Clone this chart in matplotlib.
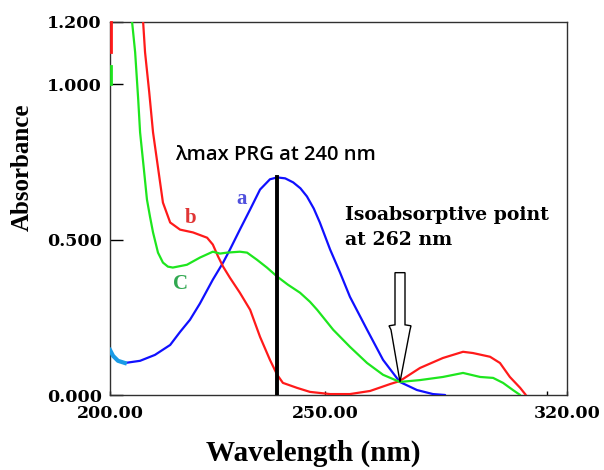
import matplotlib
matplotlib.use("Agg")
import matplotlib.pyplot as plt
from matplotlib.patches import Polygon

# ---- data ----
# curve a (blue)
wl_a = [200.0, 200.8, 202.1, 203.9, 207.9, 211.8, 215.8, 218.4, 221.0, 223.6, 227.0,
        229.7, 231.5, 234.1, 236.8, 239.4, 242.0, 243.9, 246.0, 248.1, 250.0, 251.7,
        253.5, 255.1, 257.8, 260.4, 263.0, 267.5, 271.7, 276.1, 280.6, 284.8, 288.0]
abs_a = [0.145, 0.126, 0.110, 0.103, 0.110, 0.129, 0.161, 0.203, 0.242, 0.294, 0.371,
         0.426, 0.468, 0.532, 0.597, 0.661, 0.694, 0.700, 0.697, 0.684, 0.665, 0.639,
         0.600, 0.555, 0.468, 0.394, 0.316, 0.210, 0.113, 0.042, 0.016, 0.003, 0.0]
# noisy start of curve a (cyan)
wl_a0 = [200.0, 200.8, 202.1, 203.9]
abs_a0 = [0.145, 0.126, 0.110, 0.103]

# curve b (red)
wl_b = [208.7, 209.2, 210.3, 211.3, 212.6, 213.9, 215.8, 218.4, 221.8, 225.5, 227.0,
        228.4, 229.7, 231.5, 234.1, 236.8, 239.4, 242.0, 243.9, 245.4, 249.1, 252.5,
        257.8, 263.0, 268.3, 273.5, 276.1, 281.4, 287.4, 292.7, 295.3, 299.8, 302.4,
        305.0, 307.7, 309.2]
abs_b = [1.200, 1.103, 0.974, 0.845, 0.732, 0.619, 0.555, 0.532, 0.523, 0.506, 0.484,
         0.445, 0.413, 0.377, 0.329, 0.274, 0.187, 0.113, 0.065, 0.039, 0.023, 0.010,
         0.003, 0.003, 0.013, 0.035, 0.045, 0.087, 0.119, 0.139, 0.135, 0.123, 0.103,
         0.058, 0.023, 0.0]

# curve C (green)
wl_c = [205.8, 206.6, 207.4, 207.9, 208.9, 209.7, 210.5, 211.3, 212.6, 213.9, 215.2,
        216.5, 220.2, 223.6, 227.0, 228.9, 230.7, 234.1, 236.0, 238.6, 241.2, 243.9,
        246.7, 249.9, 252.5, 254.4, 258.6, 263.0, 267.5, 271.7, 276.1, 281.4, 287.4,
        292.7, 297.2, 300.6, 303.2, 305.8, 307.7]
abs_c = [1.200, 1.103, 0.952, 0.845, 0.726, 0.629, 0.574, 0.523, 0.458, 0.426, 0.413,
         0.410, 0.419, 0.442, 0.461, 0.455, 0.458, 0.461, 0.458, 0.435, 0.410, 0.381,
         0.355, 0.329, 0.300, 0.274, 0.210, 0.155, 0.103, 0.065, 0.042, 0.048, 0.058,
         0.071, 0.058, 0.055, 0.039, 0.016, 0.0]

# short off-scale fragments at the left edge
wl_edge = [200.2, 200.2]
abs_edge_b = [1.200, 1.103]
abs_edge_c = [1.058, 1.0]

lambda_max_x = 243.9

yticks = [0.0, 0.5, 1.0, 1.2]
yticklabels = ["0.000", "0.500", "1.000", "1.200"]
xticks = [200.0, 256.5, 320.0]
xticklabels = ["200.00", "250.00", "320.00"]

# ---- figure ----
fig = plt.figure(figsize=(6.04, 4.70), dpi=100)
ax = fig.add_axes([110/604, 1-395/470, 457/604, 373/470])
ax.set_xlim(200, 320)
ax.set_ylim(0, 1.2)

blue = "#1010ff"
red = "#ff1a1a"
green = "#1ee61e"

kw = dict(lw=1.6, zorder=3, solid_joinstyle="round", solid_capstyle="round")
ax.plot(wl_a, abs_a, color=blue, **kw)
ax.plot(wl_a0, abs_a0, color="#1a9be6", lw=3.0, zorder=4)
ax.plot(wl_b, abs_b, color=red, **kw)
ax.plot(wl_c, abs_c, color=green, **kw)
ax.plot(wl_edge, abs_edge_b, color=red, lw=2, zorder=4, clip_on=False)
ax.plot(wl_edge, abs_edge_c, color=green, lw=2, zorder=4, clip_on=False)

# lambda max vertical line
ax.plot([lambda_max_x, lambda_max_x], [0, max(abs_a)], color="black", lw=2.8, zorder=5)

# hollow arrow pointing at isoabsorptive point
def px2d(px, py):
    return (200 + (px - 110) * 120 / 457, (395 - py) / 310)

arrow_px = [(395, 273), (405, 273), (405, 325), (411, 326), (410, 330), (400, 382),
            (391, 330), (389, 326), (395, 325)]
arrow = Polygon([px2d(*p) for p in arrow_px], closed=True, facecolor="white",
                edgecolor="black", lw=1.0, zorder=6)
ax.add_patch(arrow)

# text
ax.text(*px2d(175, 161), "λmax PRG at 240 nm", fontsize=14.5, fontfamily="Open Sans",
        fontweight="semibold", ha="left", va="baseline")
ax.text(*px2d(345, 220), "Isoabsorptive point", fontsize=13.6, fontfamily="DejaVu Serif",
        fontweight="bold", ha="left", va="baseline")
ax.text(*px2d(345, 245), "at 262 nm", fontsize=13.6, fontfamily="DejaVu Serif",
        fontweight="bold", ha="left", va="baseline")
ax.text(*px2d(242, 205), "a", fontsize=15, fontfamily="Liberation Serif",
        fontweight="bold", color="#5050dd", ha="center", va="baseline")
ax.text(*px2d(191, 223), "b", fontsize=15, fontfamily="Liberation Serif",
        fontweight="bold", color="#e03535", ha="center", va="baseline")
ax.text(*px2d(181, 289), "C", fontsize=15, fontfamily="Liberation Serif",
        fontweight="bold", color="#30a850", ha="center", va="baseline")

# axes styling
for s in ax.spines.values():
    s.set_color("#303030")
    s.set_linewidth(1.0)
ax.set_yticks(yticks)
ax.set_yticklabels(yticklabels)
ax.set_xticks(xticks)
ax.set_xticklabels(xticklabels)
ax.set_xticks([314.7], minor=True)
ax.tick_params(axis="y", direction="in", length=9, width=1.0, pad=6,
               labelsize=12.5)
ax.tick_params(axis="x", which="both", direction="in", length=3, width=1.0, pad=7,
               labelsize=12.5)
for lab in ax.get_xticklabels() + ax.get_yticklabels():
    lab.set_fontfamily("DejaVu Serif")
    lab.set_fontweight("bold")

fig.text(313/604, 1-461/470, "Wavelength (nm)", fontsize=21, fontfamily="Liberation Serif",
         fontweight="bold", ha="center", va="baseline")
fig.text(22/604, 1-167/470, "Absorbance", fontsize=18, fontfamily="Liberation Serif",
         fontweight="bold", ha="center", va="center", rotation=90)

fig.savefig("out.png", dpi=100)
